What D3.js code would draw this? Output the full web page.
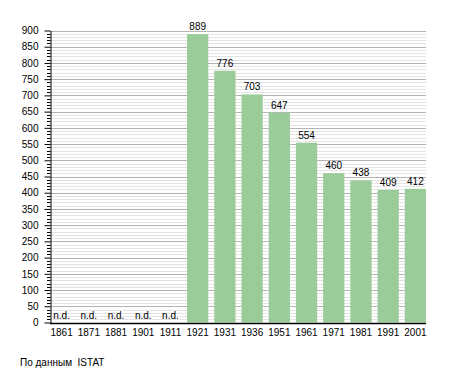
<!DOCTYPE html>
<html>
<head>
<meta charset="utf-8">
<script src="https://cdn.jsdelivr.net/npm/d3@7"></script>
<style>
  body { margin: 0; background: #fff; }
  text { font-family: "Liberation Sans", Arial, sans-serif; font-size: 10px; fill: #000; }
</style>
</head>
<body>
<svg id="chart" width="455" height="373"></svg>
<script>
// census years and population (null = no data)
var years = ['1861','1871','1881','1901','1911','1921','1931','1936','1951','1961','1971','1981','1991','2001'];
var population = [null, null, null, null, null, 889, 776, 703, 647, 554, 460, 438, 409, 412];
var yMax = 900;
var sourceNote = 'По данным  ISTAT';

var svg = d3.select('#chart');

var x = d3.scaleBand()
    .domain(years)
    .range([51, 426])
    .paddingInner(0.22)
    .paddingOuter(0);

var y = d3.scaleLinear()
    .domain([0, yMax])
    .range([322.5, 30.5]);

var left = 50, right = 426;

/*
 * grid: minor every 10, major every 50
 */
svg.append('g')
    .selectAll('line')
    .data(d3.range(10, yMax + 1, 10).filter(function(v) { return v % 50 != 0; }))
    .join('line')
        .attr('x1', left).attr('x2', right)
        .attr('y1', function(d) { return Math.round(y(d)) + 0.5; })
        .attr('y2', function(d) { return Math.round(y(d)) + 0.5; })
        .attr('stroke', '#e4e4e4');

svg.append('g')
    .selectAll('line')
    .data(d3.range(50, yMax + 1, 50))
    .join('line')
        .attr('x1', left).attr('x2', right)
        .attr('y1', function(d) { return Math.round(y(d)) + 0.5; })
        .attr('y2', function(d) { return Math.round(y(d)) + 0.5; })
        .attr('stroke', '#b4b4b4');

// bars
var data = years.map(function(yr, i) { return {year: yr, value: population[i]}; });

svg.append('g')
    .selectAll('rect')
    .data(data.filter(function(d) { return d.value != null; }))
    .join('rect')
        .attr('x', function(d) { return x(d.year); })
        .attr('y', function(d) { return y(d.value); })
        .attr('width', x.bandwidth())
        .attr('height', function(d) { return y(0) - y(d.value); })
        .attr('fill', '#99cc99');

// value labels
svg.append('g')
    .selectAll('text')
    .data(data)
    .join('text')
        .attr('x', function(d) { return x(d.year) + x.bandwidth() / 2; })
        .attr('y', function(d) { return d.value == null ? y(0) - 4 : y(d.value) - 4; })
        .attr('text-anchor', 'middle')
        .text(function(d) { return d.value == null ? 'n.d.' : d.value; });

// y axis
var yAxis = d3.axisLeft(y)
    .tickValues(d3.range(0, yMax + 1, 50))
    .tickSize(6)
    .tickSizeOuter(0)
    .tickPadding(6);

var yg = svg.append('g')
    .attr('transform', 'translate(' + (left + 0.5) + ',0)')
    .call(yAxis);
yg.select('.domain').attr('stroke', '#000');
yg.selectAll('.tick line').attr('stroke', '#000');
yg.selectAll('text').style('font-size', '10px').attr('fill', '#000');

// minor ticks on the axis
svg.append('g')
    .selectAll('line')
    .data(d3.range(0, yMax + 1, 10).filter(function(v) { return v % 50 != 0; }))
    .join('line')
        .attr('x1', left - 3).attr('x2', left + 0.5)
        .attr('y1', function(d) { return Math.round(y(d)) + 0.5; })
        .attr('y2', function(d) { return Math.round(y(d)) + 0.5; })
        .attr('stroke', '#000');

// x axis
var xAxis = d3.axisBottom(x).tickSize(0).tickPadding(5);
var xg = svg.append('g')
    .attr('transform', 'translate(0,' + (Math.round(y(0)) + 0.5) + ')')
    .call(xAxis);
xg.select('.domain').attr('d', 'M' + left + ',0H' + right).attr('stroke', '#000').attr('stroke-width', 1.5);
xg.selectAll('text').style('font-size', '10px').attr('fill', '#000');

// source note
svg.append('text')
    .attr('x', 20)
    .attr('y', 366)
    .style('white-space', 'pre')
    .text(sourceNote);
</script>
</body>
</html>
